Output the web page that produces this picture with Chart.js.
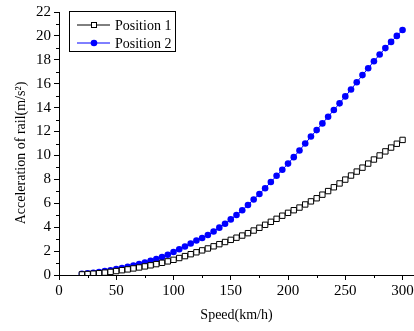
<!DOCTYPE html>
<html>
<head>
<meta charset="utf-8">
<script src="https://cdn.jsdelivr.net/npm/chart.js@4.4.1/dist/chart.umd.min.js"></script>
<style>
  html, body { margin: 0; padding: 0; background: #fff; }
  #wrap { width: 414px; height: 331px; }
</style>
</head>
<body>
<div id="wrap"><canvas id="accChart"></canvas></div>
<script>
// Speeds (km/h), one point every 5 km/h
var speeds = [20, 25, 30, 35, 40, 45, 50, 55, 60, 65, 70, 75, 80, 85, 90, 95,
  100, 105, 110, 115, 120, 125, 130, 135, 140, 145, 150, 155, 160, 165, 170, 175,
  180, 185, 190, 195, 200, 205, 210, 215, 220, 225, 230, 235, 240, 245, 250, 255,
  260, 265, 270, 275, 280, 285, 290, 295, 300];

// Acceleration of rail (m/s^2)
var position1 = [0.05, 0.08, 0.11, 0.15, 0.20, 0.26, 0.33, 0.40, 0.47, 0.55, 0.63, 0.72,
  0.81, 0.91, 1.02, 1.14, 1.27, 1.42, 1.58, 1.74, 1.90, 2.06, 2.22, 2.40, 2.58, 2.76,
  2.94, 3.12, 3.30, 3.50, 3.72, 3.95, 4.20, 4.45, 4.70, 4.96, 5.20, 5.42, 5.64, 5.90,
  6.16, 6.42, 6.72, 7.02, 7.34, 7.66, 7.98, 8.32, 8.65, 8.98, 9.32, 9.66, 10.00, 10.34,
  10.66, 10.98, 11.30];

var position2 = [0.10, 0.14, 0.19, 0.25, 0.32, 0.40, 0.49, 0.58, 0.68, 0.79, 0.91, 1.04,
  1.18, 1.33, 1.50, 1.70, 1.92, 2.15, 2.39, 2.64, 2.88, 3.10, 3.35, 3.64, 3.96, 4.29,
  4.65, 5.02, 5.42, 5.86, 6.32, 6.78, 7.26, 7.78, 8.30, 8.80, 9.32, 9.86, 10.42, 11.00,
  11.58, 12.12, 12.68, 13.24, 13.80, 14.36, 14.94, 15.52, 16.12, 16.72, 17.30, 17.88,
  18.44, 18.98, 19.50, 20.00, 20.50];

var seriesNames = ['Position 1', 'Position 2'];
var xTicks = [0, 50, 100, 150, 200, 250, 300];
var xMinorTicks = [25, 75, 125, 175, 225, 275];
var yTitle = 'Acceleration of rail(m/s²)';

var serif = "'Liberation Serif', 'Times New Roman', serif";

function toPoints(ys) {
  return speeds.map(function (s, i) { return { x: s, y: ys[i] }; });
}

// minor ticks, y title and legend box drawn on top
var extras = {
  id: 'extras',
  afterDraw: function (chart) {
    var ctx = chart.ctx;
    var xs = chart.scales.x, ys = chart.scales.y;
    var area = chart.chartArea;
    ctx.save();
    ctx.strokeStyle = '#000';
    ctx.lineWidth = 1;
    ctx.beginPath();
    xMinorTicks.forEach(function (v) {
      var px = Math.round(xs.getPixelForValue(v)) + 0.5;
      ctx.moveTo(px, area.bottom);
      ctx.lineTo(px, area.bottom + 3);
    });
    for (var v = 1; v < 22; v += 2) {
      var py = Math.round(ys.getPixelForValue(v)) + 0.5;
      ctx.moveTo(area.left - 3, py);
      ctx.lineTo(area.left, py);
    }
    ctx.stroke();

    // y axis title
    ctx.save();
    ctx.translate(21, 153);
    ctx.rotate(-Math.PI / 2);
    ctx.fillStyle = '#000';
    ctx.font = '14px ' + serif;
    ctx.textAlign = 'center';
    ctx.textBaseline = 'middle';
    ctx.fillText(yTitle, 0, 0);
    ctx.restore();

    // legend
    ctx.strokeRect(69.5, 11.5, 106, 40);
    var rows = [25, 43];
    chart.data.datasets.forEach(function (ds, i) {
      var y = rows[i];
      ctx.strokeStyle = ds.borderColor;
      ctx.beginPath();
      ctx.moveTo(77, y);
      ctx.lineTo(110, y);
      ctx.stroke();
      if (i === 0) {
        ctx.fillStyle = '#fff';
        ctx.fillRect(91, y - 3, 6, 6);
        ctx.strokeStyle = '#000';
        ctx.strokeRect(91.5, y - 2.5, 5, 5);
      } else {
        ctx.fillStyle = ds.pointBackgroundColor;
        ctx.beginPath();
        ctx.arc(94, y, 3.3, 0, Math.PI * 2);
        ctx.fill();
      }
      ctx.fillStyle = '#000';
      ctx.font = '14px ' + serif;
      ctx.textBaseline = 'middle';
      ctx.textAlign = 'left';
      ctx.fillText(seriesNames[i], 115, y + 1);
    });
    ctx.restore();
  }
};

new Chart(document.getElementById('accChart'), {
  type: 'line',
  data: {
    datasets: [{
      label: seriesNames[0],
      data: toPoints(position1),
      borderColor: '#000',
      borderWidth: 1,
      pointStyle: 'rect',
      pointRadius: 3.8,
      pointBorderWidth: 1,
      pointBackgroundColor: '#fff',
      pointBorderColor: '#000',
      tension: 0
    }, {
      label: seriesNames[1],
      data: toPoints(position2),
      borderColor: '#0000ff',
      borderWidth: 1,
      pointStyle: 'circle',
      pointRadius: 3.3,
      pointBorderWidth: 0,
      pointBackgroundColor: '#0000ff',
      pointBorderColor: '#0000ff',
      tension: 0
    }]
  },
  options: {
    responsive: true,
    maintainAspectRatio: false,
    animation: false,
    layout: { autoPadding: false, padding: { top: 11, right: 0, left: 0, bottom: 0 } },
    plugins: { legend: { display: false }, tooltip: { enabled: false } },
    scales: {
      x: {
        type: 'linear',
        min: 0,
        max: 310,
        afterBuildTicks: function (scale) {
          scale.ticks = xTicks.map(function (v) { return { value: v }; });
        },
        afterFit: function (scale) {
          scale.height = 56;
          scale.paddingRight = 0;
          scale.paddingLeft = 0;
        },
        grid: { display: true, drawOnChartArea: false, drawTicks: true, tickLength: 5, tickColor: '#000' },
        border: { display: true, color: '#000', width: 1 },
        ticks: { color: '#000', font: { family: serif, size: 15 }, padding: 2, maxRotation: 0 },
        title: { display: true, text: 'Speed(km/h)', color: '#000', font: { family: serif, size: 14 }, padding: { top: 0, bottom: 7 } }
      },
      y: {
        min: 0,
        max: 22,
        afterFit: function (scale) { scale.width = 59; },
        grid: { display: true, drawOnChartArea: false, drawTicks: true, tickLength: 5, tickColor: '#000' },
        border: { display: true, color: '#000', width: 1 },
        ticks: { stepSize: 2, color: '#000', font: { family: serif, size: 15 }, padding: 3 },
        title: { display: false }
      }
    }
  },
  plugins: [extras]
});
</script>
</body>
</html>
